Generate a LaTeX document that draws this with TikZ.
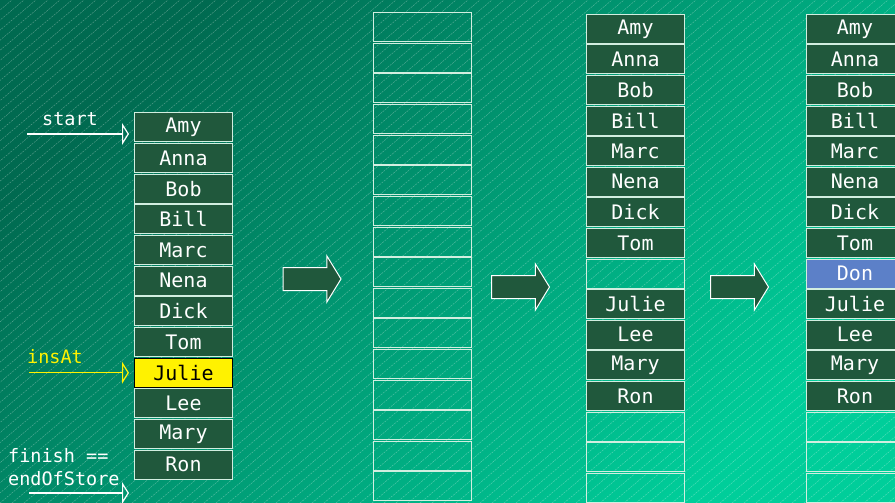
\documentclass[tikz,border=0pt]{standalone}
\usepackage{fontspec}
\setmonofont{DejaVu Sans Mono}
\usepackage{xcolor}
\usepackage{tikz}
\usetikzlibrary{shapes.arrows, arrows.meta, positioning}
\definecolor{bgdark}{RGB}{0,106,80}
\definecolor{bglight}{RGB}{0,206,154}
\definecolor{cellgreen}{RGB}{32,88,60}
\definecolor{celledge}{RGB}{210,238,224}
\definecolor{donblue}{RGB}{92,128,200}
\tikzstyle{cell} = [rectangle, minimum width=98pt, minimum height=29pt, inner sep=0pt, draw=celledge, line width=1pt, fill=cellgreen, text=white, font=\ttfamily\fontsize{20}{20}\selectfont]
\tikzstyle{slot} = [cell, fill=none]
\tikzstyle{hit} = [cell, fill=yellow, draw=black, text=black]
\tikzstyle{newcell} = [cell, fill=donblue]
\tikzstyle{bigarrow} = [single arrow, anchor=tail, draw=white, fill=cellgreen, line width=1pt, minimum height=58pt, single arrow head extend=11.5pt, single arrow tip angle=117, inner sep=0pt]
\tikzstyle{ptr} = [line width=1.2pt, -{Triangle[open, length=7pt, width=22pt]}, shorten >=5pt]
\tikzstyle{ptrlabel} = [font=\ttfamily\fontsize{18.5}{23}\selectfont, inner sep=0pt]
\tikzstyle{hatch} = [white, opacity=0.35, line width=0.4pt, dash pattern=on 2pt off 1pt]

\begin{document}
\begin{tikzpicture}[x=1pt, y=-1pt]
\useasboundingbox (0,0) rectangle (895,503);

% background
\shade[top color=bgdark, bottom color=bglight, shading angle=45] (0,0) rectangle (895,503);
\begin{scope}
\clip (0,0) rectangle (895,503);
\foreach \k in {-60,...,80} \draw[hatch] (\k*12,503) -- ++(600,-503);
\end{scope}

% store before insertion
\foreach \n [count=\i from 0] in {Amy,Anna,Bob,Bill,Marc,Nena,Dick,Tom}
  \node[cell] (a\i) at (183.5,127.3+30.67*\i) {\n};
\node[hit] (a8) at (183.5,127.3+30.67*8) {Julie};
\foreach \n [count=\i from 9] in {Lee,Mary,Ron}
  \node[cell] (a\i) at (183.5,127.3+30.67*\i) {\n};

% new, larger store
\foreach \i in {0,...,15}
  \node[slot] (b\i) at (422,27.3+30.6*\i) {};

% copied, gap at insAt
\foreach \n [count=\i from 0] in {Amy,Anna,Bob,Bill,Marc,Nena,Dick,Tom}
  \node[cell] (c\i) at (635.5,28.8+30.6*\i) {\n};
\node[slot] (c8) at (635.5,28.8+30.6*8) {};
\foreach \n [count=\i from 9] in {Julie,Lee,Mary,Ron}
  \node[cell] (c\i) at (635.5,28.8+30.6*\i) {\n};
\foreach \i in {13,14,15}
  \node[slot] (c\i) at (635.5,28.8+30.6*\i) {};

% Don inserted
\foreach \n [count=\i from 0] in {Amy,Anna,Bob,Bill,Marc,Nena,Dick,Tom}
  \node[cell] (d\i) at (855,28.8+30.6*\i) {\n};
\node[newcell] (d8) at (855,28.8+30.6*8) {Don};
\foreach \n [count=\i from 9] in {Julie,Lee,Mary,Ron}
  \node[cell] (d\i) at (855,28.8+30.6*\i) {\n};
\foreach \i in {13,14,15}
  \node[slot] (d\i) at (855,28.8+30.6*\i) {};

% steps
\node[bigarrow] (step1) at (282.5,279) {\rule{0pt}{22pt}};
\node[bigarrow] (step2) at (491,287) {\rule{0pt}{22pt}};
\node[bigarrow] (step3) at (710,287) {\rule{0pt}{22pt}};

% pointers
\node[ptrlabel, text=white] (startlbl) at (70,119) {start};
\coordinate (startTail) at (27,134);
\draw[ptr, white] (startTail) -- (startTail -| a0.west);

\node[ptrlabel, text=yellow] (inslbl) at (55,357) {insAt};
\coordinate (insTail) at (29,372.7);
\draw[ptr, yellow] (insTail) -- (insTail -| a8.west);

\node[ptrlabel, text=white, align=left, anchor=north west] (finlbl) at (8,448) {finish ==\\endOfStore};
\coordinate (finTail) at (29,493);
\draw[ptr, white] (finTail) -- (finTail -| a11.west);

\end{tikzpicture}
\end{document}
